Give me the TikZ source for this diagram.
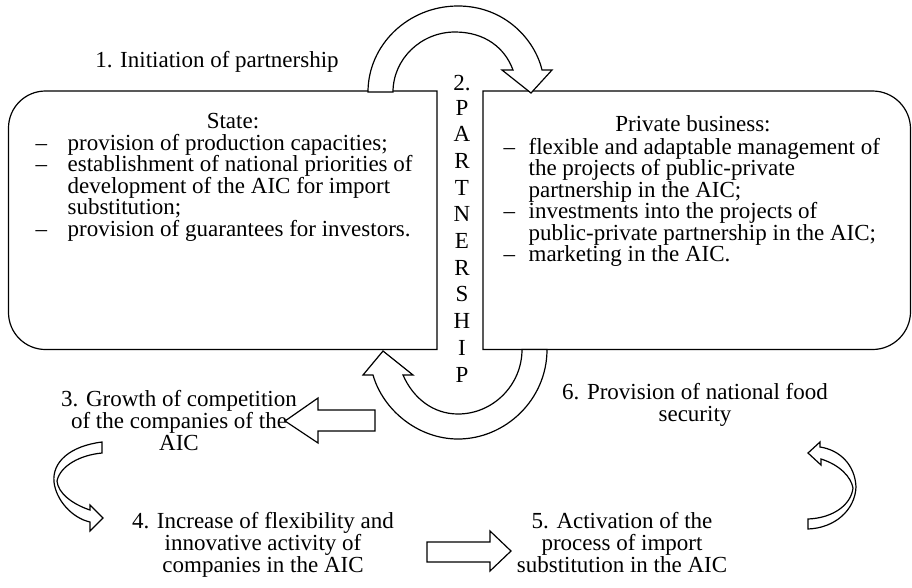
\documentclass[tikz,border=0pt]{standalone}
\usepackage{fontspec}
\setmainfont{Liberation Serif}
\begin{document}
\begin{tikzpicture}[x=1pt,y=-1pt,line width=1.2pt,line join=miter,
  txt/.style={font=\fontsize{23}{21.6}\selectfont,inner sep=0pt},
  blockarrow/.style={draw,fill=white,line width=1.2pt}]
\useasboundingbox (0,0) rectangle (912,587);

% State box (rounded on the left)
\draw (437,91) -- (45.5,91) arc[start angle=-90,end angle=-180,radius=37]
      -- (8.5,312.5) arc[start angle=180,end angle=90,radius=37]
      -- (437,349.5) -- cycle;
% Private business box (rounded on the right)
\draw (483,91) -- (872.5,91) arc[start angle=-90,end angle=0,radius=38]
      -- (910.5,311.5) arc[start angle=0,end angle=90,radius=38]
      -- (483,349.5) -- cycle;

% upper curved arrow: State -> Private business
\draw[blockarrow] (368,92) .. controls (368,45) and (408,6) .. (458,6)
  .. controls (505,6) and (535,40) .. (542,70) -- (552,70) -- (531,93)
  -- (502,70) -- (513,70) .. controls (505,48) and (485,32) .. (455,32)
  .. controls (421,32) and (393,59) .. (393,92) -- cycle;
% lower curved arrow: Private business -> State
\draw[blockarrow] (547,349.5) .. controls (547,400) and (505,439) .. (458,439)
  .. controls (418,439) and (383,410) .. (373,375) -- (363,375) -- (383,351)
  -- (413,375) -- (403,375) .. controls (413,398) and (433,414) .. (458,414)
  .. controls (493,414) and (522,385) .. (522,349.5) -- cycle;

% straight block arrows
\draw[blockarrow] (375,410) -- (318,410) -- (318,398) -- (285,421)
  -- (318,443) -- (318,431) -- (375,431) -- cycle;
\draw[blockarrow] (427,542) -- (490,542) -- (490,531) -- (511,551)
  -- (490,571) -- (490,562) -- (427,562) -- cycle;

% small curved arrows
\draw[blockarrow] (102,442) .. controls (70,446) and (52,462) .. (54,482)
  .. controls (56,500) and (72,518) .. (90,522) -- (90,531) -- (103,518)
  -- (90,505) -- (90,510) .. controls (72,504) and (58,493) .. (57,481)
  .. controls (60,466) and (80,455) .. (102,453) -- cycle;
\draw[blockarrow] (808,529) .. controls (835,528) and (855,510) .. (856,487)
  .. controls (855,465) and (840,450) .. (820,447) -- (820,442) -- (808,453)
  -- (821,465) -- (821,459) .. controls (840,465) and (851,477) .. (853,488)
  .. controls (851,505) and (833,518) .. (808,519) -- cycle;

% vertical caption between the boxes
\node[txt,anchor=base] (p0) at (462,90) {2.};
\foreach \l [count=\i] in {P,A,R,T,N,E,R,S,H,I,P}
  \node[txt,anchor=base] (p\i) at (462,{115+26.7*(\i-1)}) {\l};

% State box text
\node[txt,anchor=base] (st) at (233,128.5) {State:};
\node[txt,anchor=base west] (sd1) at (35,150) {–};
\node[txt,anchor=base west] (sa1) at (67,150) {provision of production capacities;};
\node[txt,anchor=base west] (sd2) at (35,171.5) {–};
\node[txt,anchor=base west] (sa2) at (67,171.5) {establishment of national priorities of};
\node[txt,anchor=base west] (sa3) at (67,193) {development of the AIC for import};
\node[txt,anchor=base west] (sa4) at (67,214.5) {substitution;};
\node[txt,anchor=base west] (sd3) at (35,236) {–};
\node[txt,anchor=base west] (sa5) at (67,236) {provision of guarantees for investors.};

% Private business box text
\node[txt,anchor=base] (pb) at (693,131.5) {Private business:};
\node[txt,anchor=base west] (bd1) at (503,154) {–};
\node[txt,anchor=base west] (ba1) at (528,154) {flexible and adaptable management of};
\node[txt,anchor=base west] (ba2) at (528,175.5) {the projects of public-private};
\node[txt,anchor=base west] (ba3) at (528,197) {partnership in the AIC;};
\node[txt,anchor=base west] (bd2) at (503,218.5) {–};
\node[txt,anchor=base west] (ba4) at (528,218.5) {investments into the projects of};
\node[txt,anchor=base west] (ba5) at (528,240) {public-private partnership in the AIC;};
\node[txt,anchor=base west] (bd3) at (503,261.5) {–};
\node[txt,anchor=base west] (ba6) at (528,261.5) {marketing in the AIC.};

% stage labels
\node[txt,anchor=base] (s1) at (217,67) {1. Initiation of partnership};

\node[txt,anchor=base] (s3a) at (179,406) {3. Growth of competition};
\node[txt,anchor=base] (s3b) at (179,428) {of the companies of the};
\node[txt,anchor=base] (s3c) at (179,450) {AIC};

\node[txt,anchor=base] (s4a) at (263,528) {4. Increase of flexibility and};
\node[txt,anchor=base] (s4b) at (263,550) {innovative activity of};
\node[txt,anchor=base] (s4c) at (263,572) {companies in the AIC};

\node[txt,anchor=base] (s5a) at (622,528) {5. Activation of the};
\node[txt,anchor=base] (s5b) at (622,550) {process of import};
\node[txt,anchor=base] (s5c) at (622,572) {substitution in the AIC};

\node[txt,anchor=base] (s6a) at (695,399) {6. Provision of national food};
\node[txt,anchor=base] (s6b) at (695,421) {security};
\end{tikzpicture}
\end{document}
